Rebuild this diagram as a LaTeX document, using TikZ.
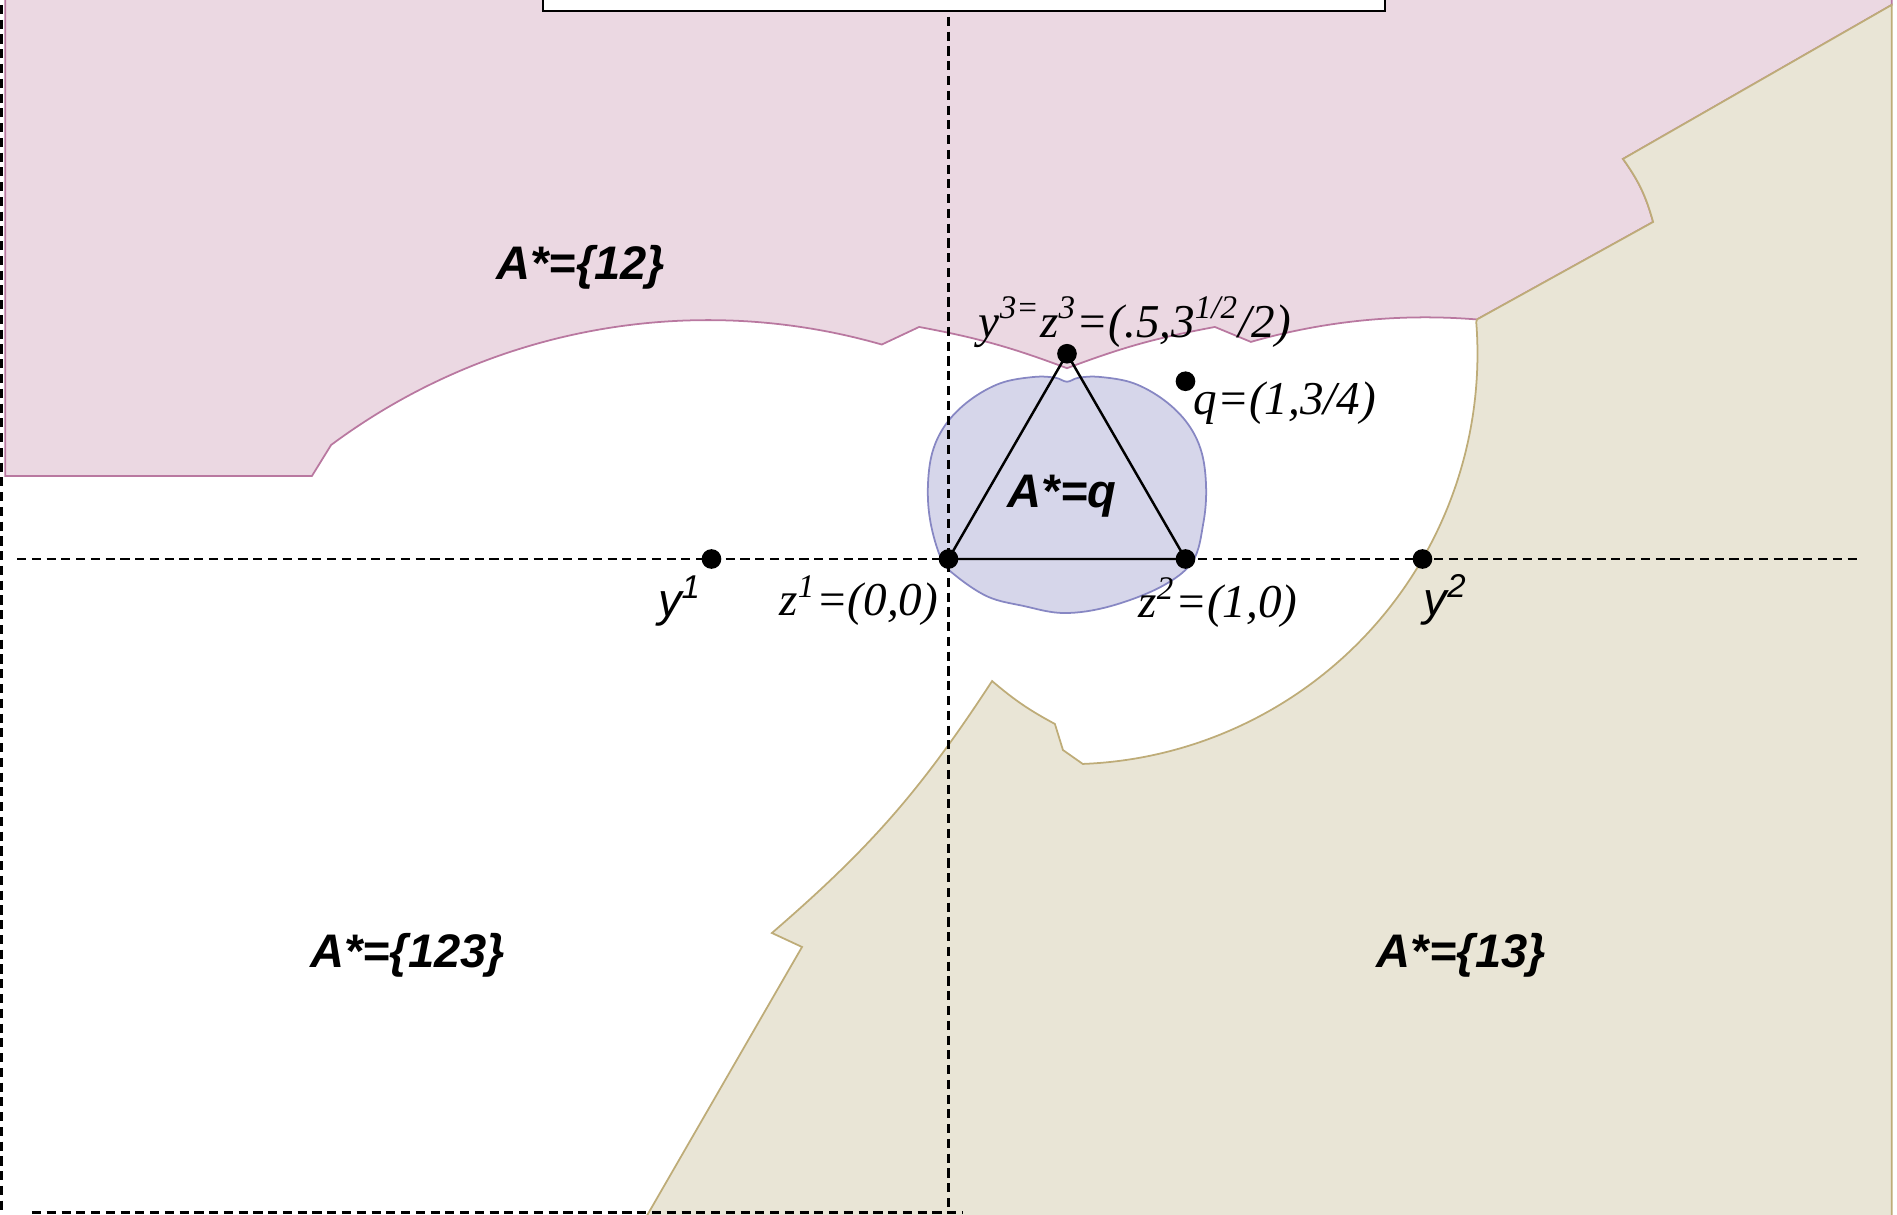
\documentclass[tikz,border=0pt]{standalone}
\usepackage{fontspec}
\setmainfont{Liberation Serif}
\newfontfamily\arialfont{Liberation Sans}
\usetikzlibrary{positioning,calc}
\definecolor{pinkreg}{RGB}{235,216,226}
\definecolor{pinkline}{RGB}{185,120,160}
\definecolor{tanreg}{RGB}{233,229,214}
\definecolor{tanline}{RGB}{190,172,120}
\definecolor{bluereg}{RGB}{214,214,234}
\definecolor{blueline}{RGB}{135,135,195}
\tikzset{every picture/.style={line width=0.6pt}}
\tikzset{
  dot/.style={circle, fill=black, inner sep=0pt, minimum size=5.6pt},
  axisline/.style={dash pattern=on 2.6pt off 1.6pt, line width=0.7pt},
  regline/.style={line width=0.5pt},
  ptlabel/.style={font=\fontsize{13.4}{16}\selectfont\itshape, inner sep=0pt},
  ylabel/.style={font=\fontsize{13.4}{16}\selectfont\arialfont\itshape, inner sep=0pt},
  setlabel/.style={font=\fontsize{13.4}{16}\selectfont\arialfont\bfseries\itshape, inner sep=0pt},
}

\begin{document}
\begin{tikzpicture}[scale=2.37]
    \clip (-4.002,-2.7637) rectangle (4.002,2.3586);
    % 区域 A*={12}
    \draw[regline, fill=pinkreg, draw=pinkline]
      (-3.98,2.5) -- (-3.98,0.35) -- (-2.686,0.35) -- (-2.605,0.481)
      arc[start angle=126.67, end angle=74, radius=2.662]
      -- (-0.124,0.979) to[bend left=5] (0.5,0.805) to[bend left=5] (1.124,0.979)
      -- (1.276,0.916) arc[start angle=106.04, end angle=85.3, radius=2.662] coordinate (Q)
      -- (2.973,1.422) to[bend right=10] (2.846,1.688) -- (3.98,2.338) -- (3.98,2.5) -- cycle;
    % 区域 A*={13}
    \draw[regline, fill=tanreg, draw=tanline]
      (Q) -- (2.973,1.422) to[bend right=10] (2.846,1.688) -- (3.98,2.338)
      -- (3.98,-2.9) -- (-1.347,-2.9) -- (-0.618,-1.637) -- (-0.745,-1.578)
      to[bend right=8] (0.184,-0.515) to[bend right=6] (0.449,-0.696)
      -- (0.483,-0.806) -- (0.5665,-0.8647)
      arc[start angle=-87.8, end angle=4.4, radius=1.732] -- cycle;
    % 区域 A*=q
    \draw[regline, fill=bluereg, draw=blueline] plot[smooth cycle, tension=0.6] coordinates {
      (1.087,0.3) (1.068,0.45) (1.01,0.57) (0.91,0.67) (0.78,0.742) (0.64,0.768)
      (0.55,0.765) (0.5,0.748) (0.45,0.765) (0.36,0.768) (0.22,0.742) (0.09,0.67)
      (-0.01,0.57) (-0.068,0.45) (-0.087,0.3) (-0.075,0.15) (-0.03,0.0) (0.03,-0.07)
      (0.166,-0.159) (0.316,-0.198) (0.487,-0.228) (0.68,-0.2) (0.897,-0.117)
      (1.03,-0.01) (1.075,0.15)};
    % 虚线
    \draw[axisline] (-3.93,0) -- (3.833,0);
    \draw[axisline] (0,2.287) -- (0,-2.757);
    \draw[axisline] (-3.995,2.4) -- (-3.995,-2.8);
    \draw[axisline] (-3.867,-2.757) -- (0.061,-2.757);
    % 点与三角形
    \node[dot] (z1) at (0,0) {};
    \node[dot] (z2) at (1,0) {};
    \node[dot] (z3) at (0.5,0.866) {};
    \node[dot] (y1) at (-1,0) {};
    \node[dot] (y2) at (2,0) {};
    \node[dot] (q) at (1,0.75) {};
    \draw[line width=0.7pt] (z1.center) -- (z2.center) -- (z3.center) -- cycle;
    % 标签
    \node[setlabel] (s12) at (-1.552,1.230) {A*=\{12\}};
    \node[setlabel] (sq) at (0.479,0.266) {A*=q};
    \node[setlabel] (s123) at (-2.282,-1.674) {A*=\{123\}};
    \node[setlabel] (s13) at (2.164,-1.674) {A*=\{13\}};
    \node[ylabel] (ly1) at (-1.133,-0.177) {y\textsuperscript{1}};
    \node[ptlabel] (lz1) at (-0.378,-0.177) {z\textsuperscript{1}=(0,0)};
    \node[ptlabel] (lz2) at (1.137,-0.184) {z\textsuperscript{2}=(1,0)};
    \node[ylabel] (ly2) at (2.098,-0.173) {y\textsuperscript{2}};
    \node[ptlabel] (lq) at (1.420,0.658) {q=(1,3/4)};
    \node[ptlabel] (lz3) at (0.787,1.0) {y\textsuperscript{3=}z\textsuperscript{3}=(.5,3\textsuperscript{1/2}/2)};
    % 顶部方框
    \draw[fill=white] (-1.711,2.312) rectangle (1.842,2.5);
\end{tikzpicture}
\end{document}
